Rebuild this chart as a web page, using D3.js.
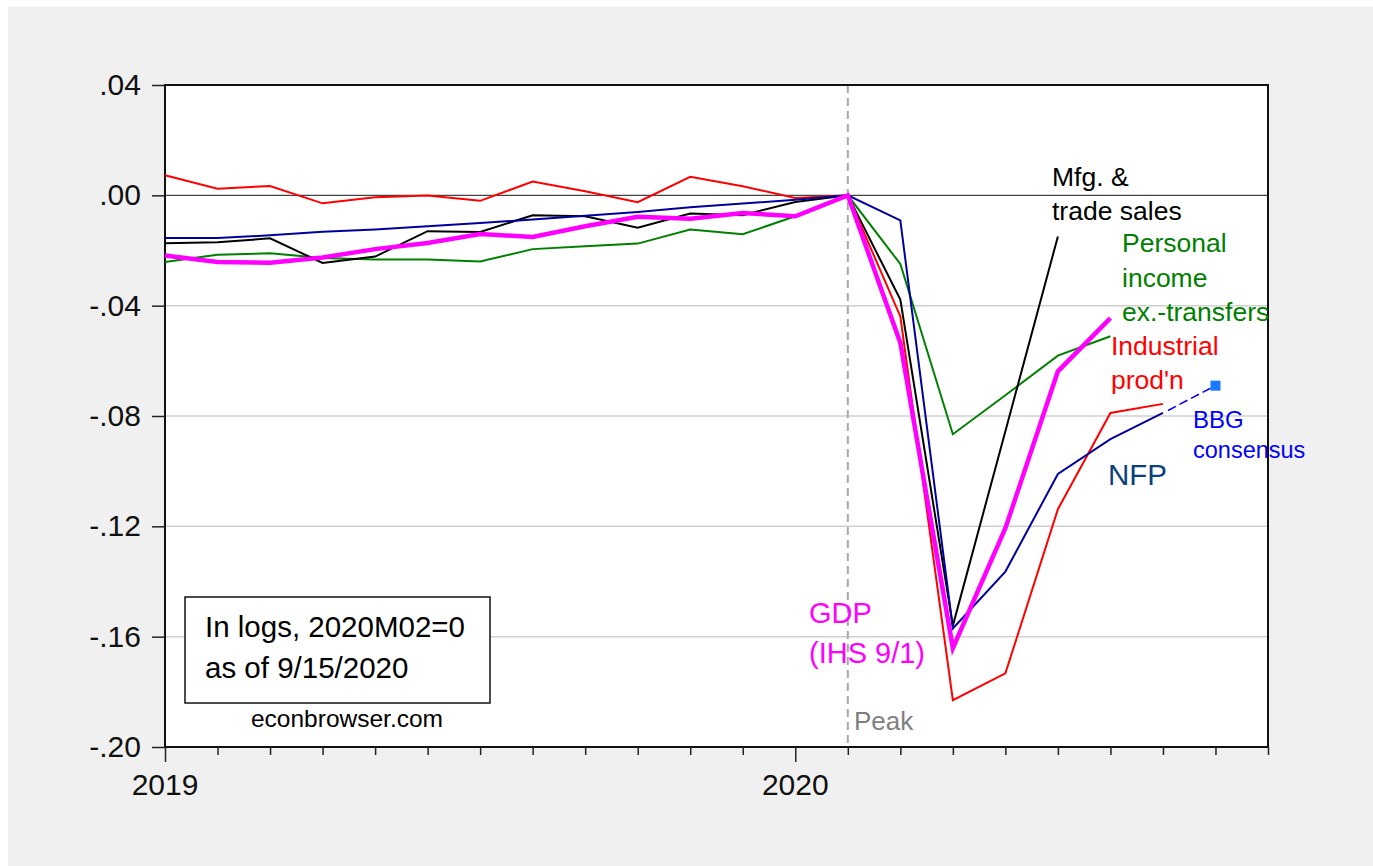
<!DOCTYPE html>
<html lang="en">
<head>
<meta charset="UTF-8">
<script src="https://cdn.jsdelivr.net/npm/d3@7"></script>
<style>
  body { margin: 0; background: #fff; }
  svg text { font-family: "Liberation Sans", Arial, sans-serif; }
</style>
</head>
<body>
<script>
// monthly categories on the x axis
const months = ["2019M01","2019M02","2019M03","2019M04","2019M05","2019M06","2019M07","2019M08","2019M09","2019M10","2019M11","2019M12",
                "2020M01","2020M02","2020M03","2020M04","2020M05","2020M06","2020M07","2020M08","2020M09","2020M10"];
const yearLabels = ["2019", "2020"];
const yTicks = [0.04, 0.00, -0.04, -0.08, -0.12, -0.16, -0.20];

// series, in logs, 2020M02 = 0
const indProd = [0.0073, 0.0024, 0.0034, -0.0029, -0.0007, -0.0001, -0.0020, 0.0050, 0.0015, -0.0025, 0.0067, 0.0033,
                 -0.0010, 0.0, -0.0439, -0.1830, -0.1733, -0.1138, -0.0789, -0.0756];
const nfp = [-0.0155, -0.0155, -0.0145, -0.0132, -0.0124, -0.0112, -0.0100, -0.0088, -0.0074, -0.0060, -0.0043, -0.0030,
             -0.0016, 0.0, -0.0091, -0.1570, -0.1364, -0.1010, -0.0884, -0.0789];
const mfgSales = [-0.0174, -0.0170, -0.0156, -0.0245, -0.0222, -0.0130, -0.0133, -0.0072, -0.0076, -0.0117, -0.0066, -0.0072,
                  -0.0024, 0.0, -0.0378, -0.1560, -0.0855, -0.0149];
const persInc = [-0.0242, -0.0215, -0.0210, -0.0227, -0.0233, -0.0233, -0.0240, -0.0195, -0.0185, -0.0175, -0.0124, -0.0141,
                 -0.0076, 0.0, -0.0249, -0.0866, -0.0725, -0.0581, -0.0511];
const gdp = [-0.0218, -0.0242, -0.0244, -0.0225, -0.0195, -0.0173, -0.0140, -0.0151, -0.0112, -0.0078, -0.0085, -0.0064,
             -0.0076, 0.0, -0.0535, -0.1642, -0.1207, -0.0638, -0.0445];
const bbgMonth = "2020M09";
const bbgValue = -0.069;
const peakMonth = "2020M02";

const W = 1373, H = 866;
const m = {left: 165, right: 1268, top: 85, bottom: 747};

const svg = d3.select("body").append("svg").attr("width", W).attr("height", H);
svg.append("rect").attr("x", 8).attr("y", 7).attr("width", W - 8).attr("height", H - 7).attr("fill", "#f0f0f0");
svg.append("rect").attr("x", m.left).attr("y", m.top).attr("width", m.right - m.left).attr("height", m.bottom - m.top).attr("fill", "#fff");

const x = d3.scalePoint().domain(months).range([m.left, m.right]);
const y = d3.scaleLinear().domain([-0.20, 0.04]).range([m.bottom, m.top]);
const fmt = v => d3.format(".2f")(v).replace("\u2212", "-").replace("0.", ".");

// grid lines
svg.append("g").selectAll("line")
    .data(yTicks.filter(v => v < 0.035 && v > -0.195 && v !== 0))
    .enter().append("line")
    .attr("x1", m.left).attr("x2", m.right)
    .attr("y1", d => y(d)).attr("y2", d => y(d))
    .attr("stroke", "#d0d0d0").attr("stroke-width", 1.5);

// zero line
svg.append("line").attr("x1", m.left).attr("x2", m.right).attr("y1", y(0)).attr("y2", y(0))
    .attr("stroke", "#444").attr("stroke-width", 1.3);

// peak line
svg.append("line").attr("x1", x(peakMonth)).attr("x2", x(peakMonth)).attr("y1", m.top).attr("y2", m.bottom)
    .attr("stroke", "#a8a8a8").attr("stroke-width", 2).attr("stroke-dasharray", "8,5");

// frame
svg.append("rect").attr("x", m.left).attr("y", m.top).attr("width", m.right - m.left).attr("height", m.bottom - m.top)
    .attr("fill", "none").attr("stroke", "#111").attr("stroke-width", 2);

// y axis
const yAxis = d3.axisLeft(y).tickValues(yTicks).tickFormat(fmt).tickSize(13).tickPadding(11);
const gy = svg.append("g").attr("transform", `translate(${m.left},0)`).call(yAxis);
gy.select(".domain").remove();
gy.selectAll(".tick line").attr("stroke", "#222").attr("stroke-width", 1.5);
gy.selectAll("text").attr("font-size", 30).attr("fill", "#111").attr("font-family", "Liberation Sans, Arial");

// x axis
const xAxis = d3.axisBottom(x).tickValues(months).tickFormat("").tickSize(8);
const gx = svg.append("g").attr("transform", `translate(0,${m.bottom})`).call(xAxis);
gx.select(".domain").remove();
gx.selectAll(".tick line").attr("stroke", "#222").attr("stroke-width", 1.5)
    .attr("y2", d => d.endsWith("M01") ? 15 : 8);
svg.append("g").selectAll("text").data(yearLabels).enter().append("text")
    .attr("x", d => x(d + "M01")).attr("y", 795)
    .attr("text-anchor", "middle").attr("font-size", 30).attr("fill", "#111")
    .text(d => d);

// series lines
const line = d3.line().x((d, i) => x(months[i])).y(d => y(d));
const series = [
  {data: persInc, color: "#008000", w: 2},
  {data: mfgSales, color: "#000000", w: 2},
  {data: indProd, color: "#ff0000", w: 2},
  {data: nfp, color: "#00009c", w: 2},
  {data: gdp, color: "#ff00ff", w: 4.5}
];
svg.append("g").selectAll("path").data(series).enter().append("path")
    .attr("d", d => line(d.data))
    .attr("fill", "none").attr("stroke", d => d.color).attr("stroke-width", d => d.w)
    .attr("stroke-linejoin", "miter");

// BBG consensus
const nfpLast = months[nfp.length - 1];
svg.append("line")
    .attr("x1", x(nfpLast) + 5).attr("y1", y(nfp[nfp.length - 1]) - 2.5)
    .attr("x2", x(bbgMonth)).attr("y2", y(bbgValue))
    .attr("stroke", "#0000ff").attr("stroke-width", 1.5).attr("stroke-dasharray", "9,4");
svg.append("rect").attr("x", x(bbgMonth) - 5).attr("y", y(bbgValue) - 5).attr("width", 10).attr("height", 10)
    .attr("fill", "#1878ff");

// annotations
function label(lines, x0, y0, dy, size, color) {
  const t = svg.append("text").attr("font-size", size).attr("fill", color);
  lines.forEach((s, i) => t.append("tspan").attr("x", x0).attr("y", y0 + i * dy).text(s));
}
label(["Mfg. &", "trade sales"], 1052, 186, 34, 26.5, "#000");
label(["Personal", "income", "ex.-transfers"], 1122, 252, 34.5, 26.5, "#008000");
label(["Industrial", "prod'n"], 1111, 355, 34, 26.5, "#ff0000");
label(["BBG"], 1193, 428, 0, 24, "#0000ff");
label(["consensus"], 1193, 458, 0, 23.5, "#0000ff");
label(["NFP"], 1108, 485, 0, 29.5, "#0b3f7e");
label(["GDP", "(IHS 9/1)"], 809, 623, 40, 29, "#ff00ff");
label(["Peak"], 854, 730, 0, 26, "#808080");

// note box
svg.append("rect").attr("x", 185).attr("y", 597).attr("width", 305).attr("height", 106)
    .attr("fill", "#fff").attr("stroke", "#111").attr("stroke-width", 1.5);
label(["In logs, 2020M02=0", "as of 9/15/2020"], 205, 637, 41, 29.5, "#000");
svg.append("text").attr("x", 347).attr("y", 727).attr("text-anchor", "middle")
    .attr("font-size", 24.5).attr("fill", "#000").text("econbrowser.com");
</script>
</body>
</html>
